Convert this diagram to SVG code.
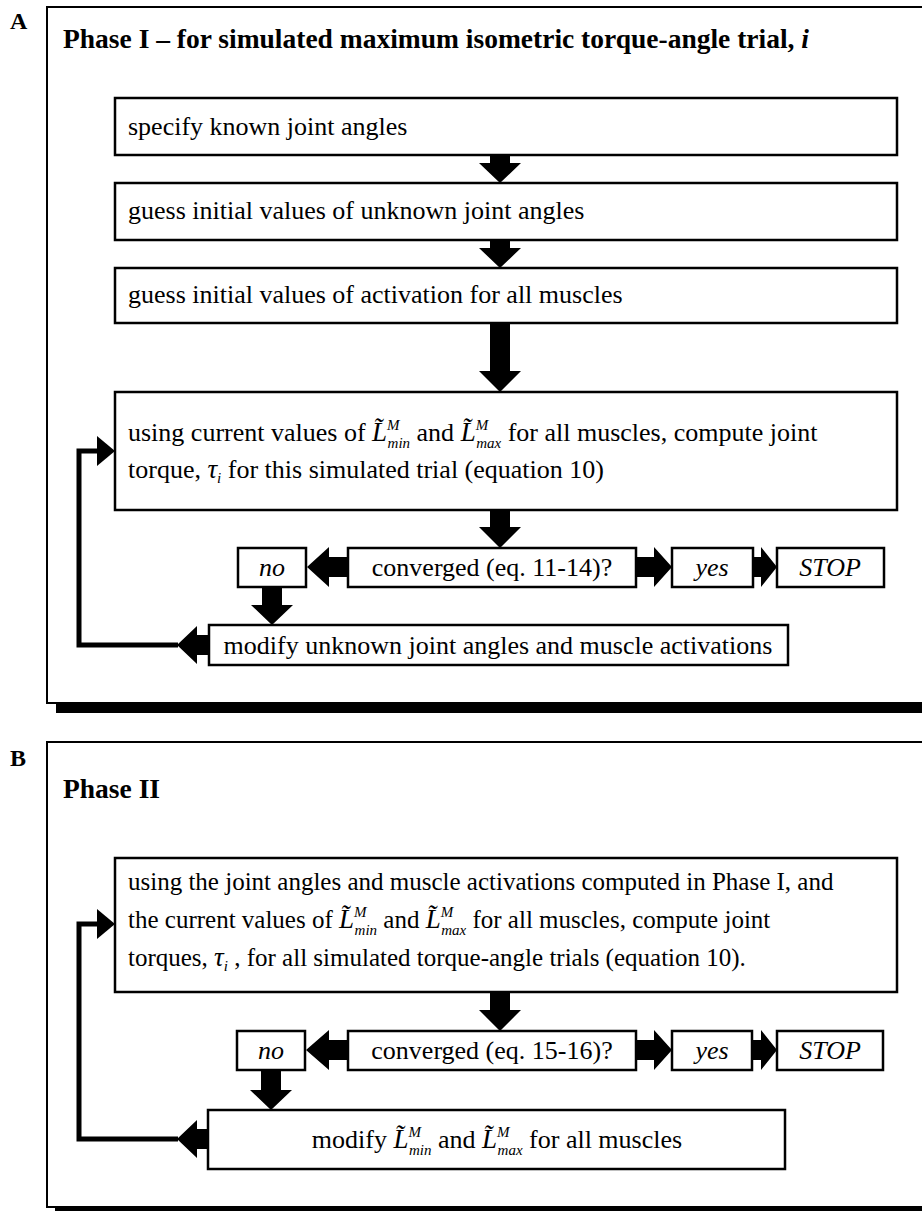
<svg xmlns="http://www.w3.org/2000/svg" width="922" height="1211" viewBox="0 0 922 1211">
<style>
.bg{fill:#fff}
.panel{fill:none;stroke:#000;stroke-width:2}
.box{fill:#fff;stroke:#000;stroke-width:2.5}
.t{font-family:"Liberation Serif","Times New Roman",serif;font-size:26px;fill:#000}
.t25{font-size:25px}
.c{text-anchor:middle}
.lbl{font-family:"Liberation Serif","Times New Roman",serif;font-size:24px;font-weight:bold;fill:#000}
.title{font-family:"Liberation Serif","Times New Roman",serif;font-size:27.5px;font-weight:bold;fill:#000}
.it{font-style:italic}
.L{font-style:italic;font-size:27px}
.sm{font-size:15px;font-style:italic}
.ar{fill:#000}
.fb{fill:none;stroke:#000;stroke-width:5}
.shadow{fill:#000}
</style>
<rect class="bg" x="0" y="0" width="922" height="1211"/>

<!-- Panel A -->
<g id="panelA">
<rect class="panel" x="47" y="7" width="900" height="696"/>
<rect class="shadow" x="56" y="703" width="866" height="10"/>
<text class="lbl" x="10" y="29">A</text>
<text class="title" x="63" y="48">Phase I – for simulated maximum isometric torque-angle trial, <tspan class="it">i</tspan></text>
</g>

<g id="a_box1">
<rect class="box" x="115" y="98" width="782" height="57"/>
<text class="t" x="128" y="135">specify known joint angles</text>
</g>
<g id="a_box2">
<rect class="box" x="115" y="183" width="782" height="57"/>
<text class="t" x="128" y="219">guess initial values of unknown joint angles</text>
</g>
<g id="a_box3">
<rect class="box" x="115" y="268" width="782" height="55"/>
<text class="t" x="128" y="303">guess initial values of activation for all muscles</text>
</g>
<g id="a_box4">
<rect class="box" x="115" y="392" width="782" height="118"/>
<text class="t" x="128" y="441">using current values of <tspan class="L">L̃</tspan><tspan class="sm" dy="-11">M</tspan><tspan class="sm" dx="-12" dy="18">min</tspan><tspan dy="-7">  and </tspan><tspan class="L">L̃</tspan><tspan class="sm" dy="-11">M</tspan><tspan class="sm" dx="-12" dy="18">max</tspan><tspan dy="-7">  for all muscles, compute joint</tspan></text>
<text class="t" x="128" y="478">torque,  <tspan class="L">τ</tspan><tspan class="sm" dy="5">i</tspan><tspan dy="-5">  for this simulated trial (equation 10)</tspan></text>
</g>
<g id="a_no">
<rect class="box" x="238" y="548" width="68" height="39"/>
<text class="t it c" x="272" y="576">no</text>
</g>
<g id="a_conv">
<rect class="box" x="348" y="548" width="288" height="39"/>
<text class="t c" x="492" y="576">converged (eq. 11-14)?</text>
</g>
<g id="a_yes">
<rect class="box" x="672" y="548" width="81" height="39"/>
<text class="t it c" x="712" y="576">yes</text>
</g>
<g id="a_stop">
<rect class="box" x="777" y="548" width="107" height="39"/>
<text class="t it c" x="830" y="576">STOP</text>
</g>
<g id="a_modify">
<rect class="box" x="209" y="625" width="579" height="40"/>
<text class="t c" x="498" y="654">modify unknown joint angles and muscle activations</text>
</g>

<g id="a_connectors">
<polygon class="ar" points="490,155 510,155 510,163 521,163 500,183 479,163 490,163"/>
<polygon class="ar" points="490,240 510,240 510,248 521,248 500,268 479,248 490,248"/>
<polygon class="ar" points="490,323 510,323 510,371 521,371 500,392 479,371 490,371"/>
<polygon class="ar" points="490,510 510,510 510,527 521,527 500,548 479,527 490,527"/>
<polygon class="ar" points="348,557 329,557 329,547 307,567 329,587 329,577 348,577"/>
<polygon class="ar" points="636,557 654,557 654,547 672,567 654,587 654,577 636,577"/>
<polygon class="ar" points="753,557 761,557 761,547 777,567 761,587 761,577 753,577"/>
<polygon class="ar" points="262,587 282,587 282,605 293,605 272,625 251,605 262,605"/>
<polygon class="ar" points="209,635 197,635 197,626 177,645 197,664 197,655 209,655"/>
<path class="fb" d="M178,645 H79 V451 H99"/>
<polygon class="ar" points="97,436 115,451 97,466"/>
</g>

<!-- Panel B -->
<g id="panelB">
<rect class="panel" x="47" y="742" width="900" height="465"/>
<rect class="shadow" x="55" y="1207" width="867" height="4"/>
<text class="lbl" x="10" y="766">B</text>
<text class="title" x="63" y="798">Phase II</text>
</g>

<g id="b_box1">
<rect class="box" x="115" y="858" width="782" height="134"/>
<text class="t t25" x="128" y="890">using the joint angles and muscle activations computed in Phase I, and</text>
<text class="t t25" x="128" y="928">the current values of <tspan class="L">L̃</tspan><tspan class="sm" dy="-11">M</tspan><tspan class="sm" dx="-12" dy="18">min</tspan><tspan dy="-7">  and </tspan><tspan class="L">L̃</tspan><tspan class="sm" dy="-11">M</tspan><tspan class="sm" dx="-12" dy="18">max</tspan><tspan dy="-7">  for all muscles, compute joint</tspan></text>
<text class="t t25" x="128" y="966">torques,  <tspan class="L">τ</tspan><tspan class="sm" dy="5">i</tspan><tspan dy="-5"> , for all simulated torque-angle trials (equation 10).</tspan></text>
</g>
<g id="b_no">
<rect class="box" x="237" y="1031" width="68" height="39"/>
<text class="t it c" x="271" y="1059">no</text>
</g>
<g id="b_conv">
<rect class="box" x="348" y="1031" width="288" height="39"/>
<text class="t c" x="492" y="1059">converged (eq. 15-16)?</text>
</g>
<g id="b_yes">
<rect class="box" x="672" y="1031" width="80" height="39"/>
<text class="t it c" x="712" y="1059">yes</text>
</g>
<g id="b_stop">
<rect class="box" x="777" y="1031" width="106" height="39"/>
<text class="t it c" x="830" y="1059">STOP</text>
</g>
<g id="b_modify">
<rect class="box" x="208" y="1110" width="577" height="59"/>
<text class="t c" x="497" y="1148">modify <tspan class="L">L̃</tspan><tspan class="sm" dy="-11">M</tspan><tspan class="sm" dx="-12" dy="18">min</tspan><tspan dy="-7">  and </tspan><tspan class="L">L̃</tspan><tspan class="sm" dy="-11">M</tspan><tspan class="sm" dx="-12" dy="18">max</tspan><tspan dy="-7">  for all muscles</tspan></text>
</g>

<g id="b_connectors">
<polygon class="ar" points="490,992 510,992 510,1010 521,1010 500,1031 479,1010 490,1010"/>
<polygon class="ar" points="348,1040 329,1040 329,1030 306,1050 329,1070 329,1060 348,1060"/>
<polygon class="ar" points="636,1040 654,1040 654,1030 672,1050 654,1070 654,1060 636,1060"/>
<polygon class="ar" points="752,1040 761,1040 761,1030 777,1050 761,1070 761,1060 752,1060"/>
<polygon class="ar" points="261,1070 281,1070 281,1090 292,1090 271,1110 250,1090 261,1090"/>
<polygon class="ar" points="208,1129 197,1129 197,1120 177,1139 197,1158 197,1149 208,1149"/>
<path class="fb" d="M178,1139 H79 V924 H99"/>
<polygon class="ar" points="97,909 115,924 97,939"/>
</g>
</svg>
